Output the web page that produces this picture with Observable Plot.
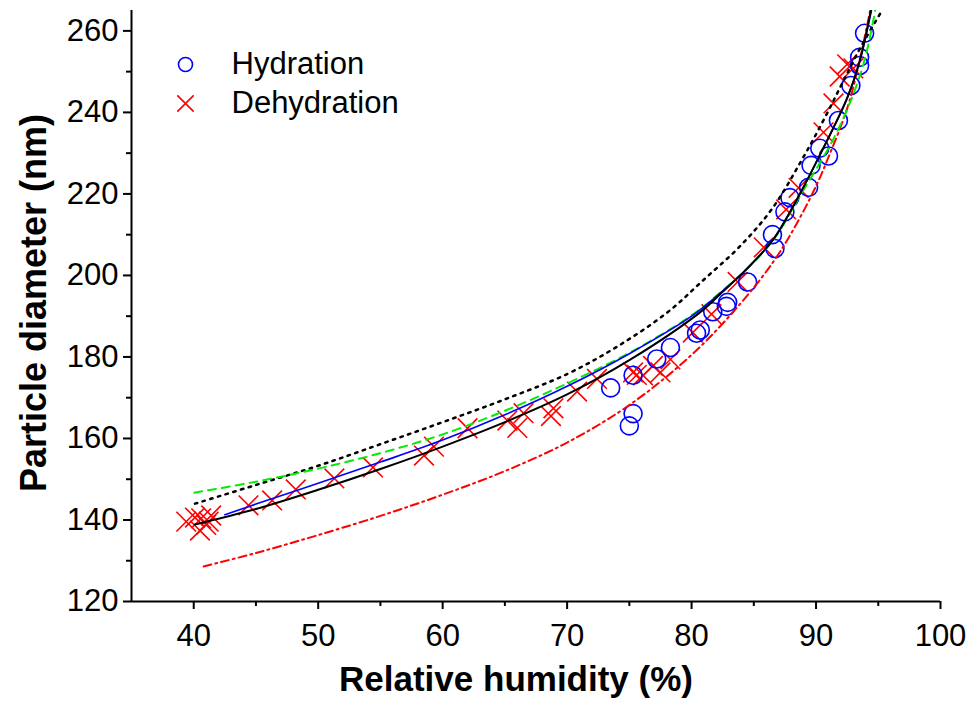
<!DOCTYPE html>
<html>
<head>
<meta charset="utf-8">
<script src="https://cdn.jsdelivr.net/npm/d3@7"></script>
<script src="https://cdn.jsdelivr.net/npm/@observablehq/plot@0.6"></script>
<style>
  html, body { margin: 0; padding: 0; background: white; }
  #chart svg { display: block; }
</style>
</head>
<body>
<div id="chart"></div>
<script>
// ---- Data ----
const hydrationRH = [73.5, 75.0, 75.3, 75.3, 77.2, 78.3, 80.4, 80.7, 81.7, 82.9, 82.8, 84.5, 86.5, 86.7, 87.5, 87.9, 89.4, 89.6, 90.3, 91.0, 91.8, 92.8, 93.5, 93.5, 93.9];
const hydrationD  = [172.4, 163.1, 166.1, 175.5, 179.5, 182.3, 185.8, 186.6, 191.1, 193.4, 192.4, 198.4, 210.0, 206.6, 215.6, 219.1, 221.6, 227.0, 231.2, 229.3, 238.0, 246.6, 251.5, 253.5, 259.4];

const dehydrationRH = [39.4, 40.1, 40.5, 40.6, 41.0, 41.2, 41.4, 44.4, 46.3, 48.2, 51.3, 54.4, 58.5, 59.3, 62.0, 65.2, 66.0, 66.5, 68.7, 68.9, 70.8, 72.4, 75.3, 75.6, 76.1, 76.9, 77.5, 78.3, 80.1, 81.6, 83.7, 85.8, 87.6, 88.6, 90.6, 91.4, 91.9, 92.5, 93.0];
const dehydrationD  = [139.6, 140.6, 137.4, 140.4, 138.8, 139.6, 141.1, 143.6, 144.8, 147.5, 150.2, 152.9, 155.8, 158.0, 162.5, 164.4, 162.6, 166.2, 165.5, 167.4, 171.5, 174.6, 176.2, 175.6, 175.5, 177.8, 176.2, 179.4, 186.0, 190.5, 198.4, 206.9, 216.2, 221.5, 235.1, 242.2, 248.8, 251.8, 250.8];

// fitted curves
const blackFitRH = [40.1, 45, 50, 55, 60, 65, 70, 75, 80.7, 82.5, 84.5, 86.6, 88.7, 90.3, 92.5, 93.5, 94.4];
const blackFitD  = [138.9, 142.7, 147.4, 152.5, 158.0, 164.0, 170.8, 179.2, 191.0, 196.0, 201.8, 209.0, 220.0, 229.5, 243.5, 252.5, 265.0];

const blueFitRH = [42.5, 45, 50, 55, 60, 65, 70, 75, 80, 82.5, 84.5, 86.6, 88.7, 90.3, 92.5, 93.5, 94.45];
const blueFitD  = [141.3, 143.9, 149.0, 154.2, 159.6, 165.8, 172.8, 180.8, 190.0, 196.2, 201.8, 209.0, 220.0, 229.5, 243.5, 252.5, 265.0];

const greenFitRH = [40.05, 45, 50, 55, 60, 65, 70, 75, 80, 82.5, 84.5, 86.6, 88.7, 91.4, 93.0, 94.0, 94.75];
const greenFitD  = [146.7, 149.4, 152.6, 156.4, 161.0, 166.8, 173.5, 181.0, 190.2, 196.3, 201.8, 208.8, 219.5, 233.5, 244.5, 254.0, 265.0];

const dottedFitRH = [40.1, 45, 50, 55, 60, 65, 70, 74, 78, 81, 84, 86.5, 88.7, 90.5, 92, 93.5, 95.3];
const dottedFitD  = [144.0, 148.6, 153.3, 158.6, 164.0, 169.6, 175.8, 182.5, 190.8, 199.0, 207.5, 216.5, 227.5, 237.5, 246.5, 255.5, 265.0];

const redFitRH = [40.8, 45, 50, 55, 60, 65, 70, 75, 80, 83.9, 86.6, 88.5, 90.1, 91.0, 92.7, 94.35];
const redFitD  = [128.6, 131.9, 136.3, 141.0, 146.2, 152.0, 159.0, 168.2, 180.5, 193.0, 203.5, 213.0, 222.6, 229.0, 242.9, 265.0];

const xMajorTicks = [40, 50, 60, 70, 80, 90, 100];
const xMinorTicks = [45, 55, 65, 75, 85, 95];
const yMajorTicks = [120, 140, 160, 180, 200, 220, 240, 260];
const yMinorTicks = [130, 150, 170, 190, 210, 230, 250];

const legendLabels = ["Hydration", "Dehydration"];
const xTitle = "Relative humidity (%)";
const yTitle = "Particle diameter (nm)";

// ---- helpers ----
const pts = (xs, ys) => xs.map((x, i) => ({x, y: ys[i]}));

const chart = Plot.plot({
  width: 973,
  height: 701,
  marginLeft: 131,
  marginRight: 33,
  marginTop: 10,
  marginBottom: 100,
  x: {domain: [35, 100]},
  y: {domain: [120, 265]},
  style: {fontFamily: "'Liberation Sans', Arial, sans-serif", background: "white", color: "black"},
  marks: [
    // axes
    Plot.axisX({ticks: xMajorTicks, tickSize: 8, tickPadding: 14, fontSize: 31, strokeWidth: 2, label: null, tickFormat: d => String(d)}),
    Plot.axisX({ticks: xMinorTicks, tickSize: 5, strokeWidth: 2, text: null, label: null}),
    Plot.axisY({ticks: yMajorTicks, tickSize: 8, tickPadding: 5, fontSize: 31, strokeWidth: 2, label: null, tickFormat: d => String(d)}),
    Plot.axisY({ticks: yMinorTicks, tickSize: 5, strokeWidth: 2, text: null, label: null}),
    Plot.ruleX([35], {stroke: "black", strokeWidth: 2}),
    Plot.ruleY([120], {stroke: "black", strokeWidth: 2}),

    // data points
    Plot.dot(pts(dehydrationRH, dehydrationD), {x: "x", y: "y", symbol: "times", r: 9, stroke: "#ff0000", strokeWidth: 1.6}),
    Plot.dot(pts(hydrationRH, hydrationD), {x: "x", y: "y", symbol: "circle", r: 9, stroke: "#0000ff", strokeWidth: 1.6, fill: "none"}),

    // fitted curves
    Plot.line(pts(redFitRH, redFitD), {x: "x", y: "y", stroke: "#ff0000", strokeWidth: 2, strokeDasharray: "8,4,2,4", curve: "catmull-rom", clip: true}),
    Plot.line(pts(dottedFitRH, dottedFitD), {x: "x", y: "y", stroke: "black", strokeWidth: 2.5, strokeDasharray: "2.5,5.5", curve: "catmull-rom", clip: true}),
    Plot.line(pts(greenFitRH, greenFitD), {x: "x", y: "y", stroke: "#00ee00", strokeWidth: 2, strokeDasharray: "8,6", curve: "catmull-rom", clip: true}),
    Plot.line(pts(blueFitRH, blueFitD), {x: "x", y: "y", stroke: "#0000ff", strokeWidth: 1.6, curve: "catmull-rom", clip: true}),
    Plot.line(pts(blackFitRH, blackFitD), {x: "x", y: "y", stroke: "black", strokeWidth: 2, curve: "catmull-rom", clip: true}),

    // axis titles
    Plot.text([yTitle], {frameAnchor: "left", rotate: -90, dx: -97, dy: -3, fontSize: 36, fontWeight: "bold", fill: "black", textAnchor: "middle", lineAnchor: "middle"}),
    Plot.text([xTitle], {frameAnchor: "bottom", dy: 78, dx: -20, fontSize: 35, fontWeight: "bold", fill: "black", textAnchor: "middle", lineAnchor: "middle"}),

    // legend
    Plot.dot([legendLabels[0]], {frameAnchor: "top-left", dx: 54, dy: 54, symbol: "circle", r: 7, stroke: "#0000ff", strokeWidth: 1.6, fill: "none"}),
    Plot.dot([legendLabels[1]], {frameAnchor: "top-left", dx: 54, dy: 93, symbol: "times", r: 7.5, stroke: "#ff0000", strokeWidth: 1.6}),
    Plot.text([legendLabels[0]], {frameAnchor: "top-left", dx: 100, dy: 54, text: d => d, fontSize: 31, fill: "black", textAnchor: "start", lineAnchor: "middle"}),
    Plot.text([legendLabels[1]], {frameAnchor: "top-left", dx: 100, dy: 93, text: d => d, fontSize: 31, fill: "black", textAnchor: "start", lineAnchor: "middle"})
  ]
});
document.getElementById("chart").appendChild(chart);
</script>
</body>
</html>
